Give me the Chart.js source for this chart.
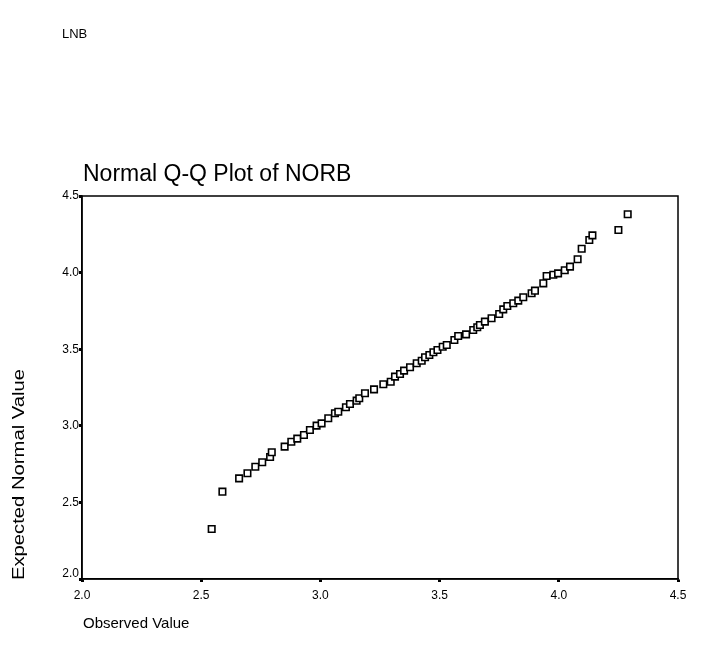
<!DOCTYPE html>
<html>
<head>
<meta charset="utf-8">
<script src="https://cdn.jsdelivr.net/npm/chart.js@4/dist/chart.umd.min.js"></script>
<style>
  html, body { margin: 0; padding: 0; background: #fff; }
  #wrap { position: relative; width: 704px; height: 655px; }
</style>
</head>
<body>
<div id="wrap"><canvas id="qq" width="704" height="655"></canvas></div>
<script>
// Observed values of NORB (sorted) and their expected normal quantiles
const observed = [
  2.544, 2.589, 2.659, 2.694, 2.727, 2.756, 2.789, 2.796, 2.850, 2.878,
  2.903, 2.931, 2.956, 2.984, 3.005, 3.033, 3.061, 3.075, 3.107, 3.124,
  3.152, 3.163, 3.187, 3.225, 3.264, 3.295, 3.313, 3.334, 3.351, 3.376,
  3.404, 3.425, 3.439, 3.457, 3.474, 3.491, 3.513, 3.530, 3.562, 3.578,
  3.611, 3.641, 3.658, 3.669, 3.690, 3.718, 3.750, 3.767, 3.784, 3.809,
  3.830, 3.851, 3.886, 3.900, 3.935, 3.949, 3.977, 3.997, 4.025, 4.047,
  4.079, 4.096, 4.128, 4.141, 4.250, 4.289
];
const expected = [
  2.326, 2.570, 2.657, 2.690, 2.733, 2.762, 2.796, 2.827, 2.864, 2.896,
  2.916, 2.940, 2.973, 3.001, 3.016, 3.049, 3.082, 3.092, 3.121, 3.142,
  3.164, 3.180, 3.212, 3.238, 3.271, 3.288, 3.321, 3.338, 3.360, 3.382,
  3.408, 3.425, 3.447, 3.462, 3.480, 3.495, 3.516, 3.527, 3.560, 3.586,
  3.597, 3.625, 3.643, 3.658, 3.680, 3.702, 3.730, 3.760, 3.782, 3.800,
  3.817, 3.839, 3.865, 3.882, 3.930, 3.978, 3.986, 3.995, 4.015, 4.039,
  4.087, 4.156, 4.213, 4.243, 4.278, 4.381
];
const xTicks = [2.0, 2.5, 3.0, 3.5, 4.0, 4.5];
const yTicks = [2.0, 2.5, 3.0, 3.5, 4.0, 4.5];

const points = observed.map((v, i) => ({ x: v, y: expected[i] }));
const FONT = 'Arial, "Liberation Sans", sans-serif';
const Y_MIN = yTicks[0];

// Frame around the plot area plus the free-standing labels
const decorations = {
  id: 'decorations',
  afterDraw(chart) {
    const { ctx, chartArea: a } = chart;
    const yScale = chart.scales.y;
    ctx.save();
    ctx.strokeStyle = '#000';
    ctx.lineWidth = 1.5;
    ctx.strokeRect(a.left, a.top, a.right - a.left, a.bottom - a.top);

    ctx.fillStyle = '#000';
    ctx.textBaseline = 'alphabetic';
    ctx.textAlign = 'left';
    ctx.font = '13px ' + FONT;
    ctx.fillText('LNB', 62, 38);

    ctx.font = '23px ' + FONT;
    ctx.fillText('Normal Q-Q Plot of NORB', 83, 181);

    ctx.font = '15px ' + FONT;
    ctx.fillText('Observed Value', 83, 628);

    // lowest vertical tick label sits a little above its tick, clear of the x labels
    ctx.font = '12px ' + FONT;
    ctx.textAlign = 'right';
    ctx.textBaseline = 'middle';
    ctx.fillText(Y_MIN.toFixed(1), a.left - 3, yScale.getPixelForValue(Y_MIN) - 5);

    // vertical axis title, widened along its reading direction
    ctx.save();
    ctx.textAlign = 'left';
    ctx.textBaseline = 'alphabetic';
    ctx.translate(24, a.bottom + 1);
    ctx.rotate(-Math.PI / 2);
    ctx.font = '16px ' + FONT;
    const label = 'Expected Normal Value';
    const w = ctx.measureText(label).width;
    ctx.scale(211 / w, 1);
    ctx.fillText(label, 0, 0);
    ctx.restore();

    ctx.restore();
  }
};

new Chart(document.getElementById('qq'), {
  type: 'scatter',
  data: {
    datasets: [{
      data: points,
      pointStyle: 'rect',
      pointRadius: 4.6,
      pointHoverRadius: 4.6,
      pointBorderWidth: 1.6,
      pointBackgroundColor: '#fff',
      pointBorderColor: '#000'
    }]
  },
  options: {
    responsive: false,
    animation: false,
    events: [],
    layout: { padding: { top: 196, right: 26, bottom: 0, left: 0 } },
    plugins: { legend: { display: false }, tooltip: { enabled: false } },
    scales: {
      x: {
        type: 'linear',
        min: 2, max: 4.5,
        afterFit(s) { s.height = 76; },
        afterBuildTicks(s) { s.ticks = xTicks.map(v => ({ value: v })); },
        border: { display: true, color: '#000', width: 1.5 },
        grid: { drawOnChartArea: false, drawTicks: true, tickLength: 3, tickWidth: 3, color: '#000' },
        ticks: {
          color: '#000', padding: 6,
          font: { family: FONT, size: 12 },
          callback: v => v.toFixed(1)
        }
      },
      y: {
        type: 'linear',
        min: 2, max: 4.5,
        afterFit(s) { s.width = 82; },
        afterBuildTicks(s) { s.ticks = yTicks.map(v => ({ value: v })); },
        border: { display: true, color: '#000', width: 1.5 },
        grid: { drawOnChartArea: false, drawTicks: true, tickLength: 3, tickWidth: 3, color: '#000' },
        ticks: {
          color: '#000', padding: 0,
          font: { family: FONT, size: 12 },
          callback: v => (v === Y_MIN ? '' : v.toFixed(1))
        }
      }
    }
  },
  plugins: [decorations]
});
</script>
</body>
</html>
